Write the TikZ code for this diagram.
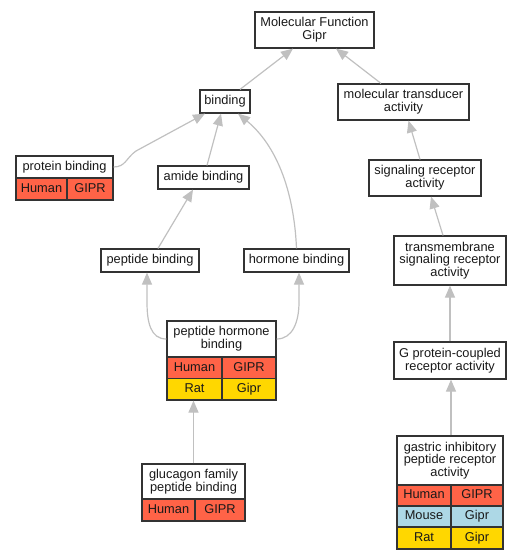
\documentclass[tikz,border=0pt]{standalone}
\usepackage{fontspec}
\setmainfont{Liberation Sans}
\usetikzlibrary{arrows.meta}
\definecolor{hum}{HTML}{FF6347}
\definecolor{mou}{HTML}{ADD8E6}
\definecolor{rat}{HTML}{FFD700}
\definecolor{edge}{HTML}{C0C0C0}
\definecolor{bord}{HTML}{333333}
\tikzset{
  box/.style={draw=bord, fill=white, line width=1.2pt, inner sep=0pt, align=center,
    font=\fontsize{12.8}{12.7}\selectfont, text=black!90, rectangle},
  one/.style={box, text height=9.3pt, text depth=2.7pt},
  cell/.style={one, fill=#1},
  lnk/.style={draw=edge, line width=1.2pt, -{Triangle[length=12pt,width=10pt]}},
}
\begin{document}
\begin{tikzpicture}[x=1pt,y=-1pt]
\useasboundingbox (0,0) rectangle (523,560);
% nodes
\node[box, minimum width=119pt, minimum height=36pt] (mf) at (314.5,30) {Molecular Function\\Gipr};
\node[one, minimum width=50pt, minimum height=23pt] (bind) at (225,101.5) {binding};
\node[box, minimum width=131pt, minimum height=36pt] (mta) at (403.5,102) {molecular transducer\\activity};
\node[one, minimum width=97pt, minimum height=22pt] (pb) at (64.5,167) {protein binding};
\node[cell=hum, minimum width=51pt, minimum height=22pt] (pbh) at (41.5,189) {Human};
\node[cell=hum, minimum width=46pt, minimum height=22pt] (pbg) at (90,189) {GIPR};
\node[one, minimum width=91pt, minimum height=23pt] (amide) at (203.5,177.5) {amide binding};
\node[box, minimum width=112pt, minimum height=36pt] (sra) at (425,178) {signaling receptor\\activity};
\node[one, minimum width=98pt, minimum height=23pt] (pep) at (150,260.5) {peptide binding};
\node[one, minimum width=105pt, minimum height=23pt] (hb) at (296.5,260.5) {hormone binding};
\node[box, minimum width=112pt, minimum height=49pt] (tsra) at (450,260.5) {transmembrane\\signaling receptor\\activity};
\node[box, minimum width=109pt, minimum height=36pt] (phb) at (221.5,339) {peptide hormone\\binding};
\node[cell=hum, minimum width=55pt, minimum height=21.5pt] (phbh) at (194.5,367.75) {Human};
\node[cell=hum, minimum width=54pt, minimum height=21.5pt] (phbg) at (249,367.75) {GIPR};
\node[cell=rat, minimum width=55pt, minimum height=21.5pt] (phbr) at (194.5,389.25) {Rat};
\node[cell=rat, minimum width=54pt, minimum height=21.5pt] (phbrg) at (249,389.25) {Gipr};
\node[box, minimum width=112pt, minimum height=37pt] (gpcr) at (450,360.5) {G protein-coupled\\receptor activity};
\node[box, minimum width=103pt, minimum height=35pt] (glu) at (193.5,481.5) {glucagon family\\peptide binding};
\node[cell=hum, minimum width=53pt, minimum height=22pt] (gluh) at (168.5,510) {Human};
\node[cell=hum, minimum width=50pt, minimum height=22pt] (glug) at (220,510) {GIPR};
\node[box, minimum width=106pt, minimum height=49pt] (gip) at (450,460.5) {gastric inhibitory\\peptide receptor\\activity};
\node[cell=hum, minimum width=54pt, minimum height=21pt] (giph) at (424,495.5) {Human};
\node[cell=hum, minimum width=52pt, minimum height=21pt] (gipg) at (477,495.5) {GIPR};
\node[cell=mou, minimum width=54pt, minimum height=21pt] (gipm) at (424,516.5) {Mouse};
\node[cell=mou, minimum width=52pt, minimum height=21pt] (gipmg) at (477,516.5) {Gipr};
\node[cell=rat, minimum width=54pt, minimum height=22pt] (gipr) at (424,538) {Rat};
\node[cell=rat, minimum width=52pt, minimum height=22pt] (giprg) at (477,538) {Gipr};
% edges
\draw[lnk] ([xshift=15pt]bind.north) -- ([xshift=-21.5pt]mf.south);
\draw[lnk] ([xshift=-22.5pt]mta.north) -- ([xshift=21.5pt]mf.south);
\draw[lnk] (pb.east) .. controls +(12,0) and (126,158) .. (136,151) -- ([xshift=-20pt]bind.south);
\draw[lnk] ([xshift=3.5pt]amide.north) -- ([xshift=-4pt]bind.south);
\draw[lnk] (hb.north) .. controls (294,190) and (276,145) .. ([xshift=13pt]bind.south);
\draw[lnk] ([xshift=8pt]pep.north) -- ([xshift=-10.5pt]amide.south);
\draw[lnk] (phb.west) .. controls +(-16,0) and (147,322) .. (147,302) -- ([xshift=-3pt]pep.south);
\draw[lnk] (phb.east) .. controls +(16,0) and (299,322) .. (299,302) -- ([xshift=2.5pt]hb.south);
\draw[lnk] (glu.north) -- (phbr.south -| glu.north);
\draw[lnk] ([xshift=-5pt]sra.north) -- ([xshift=5pt]mta.south);
\draw[lnk] ([xshift=-7pt]tsra.north) -- ([xshift=6pt]sra.south);
\draw[lnk] (gpcr.north) -- (tsra.south);
\draw[lnk] ([xshift=1pt]gip.north) -- ([xshift=1pt]gpcr.south);
\end{tikzpicture}
\end{document}
